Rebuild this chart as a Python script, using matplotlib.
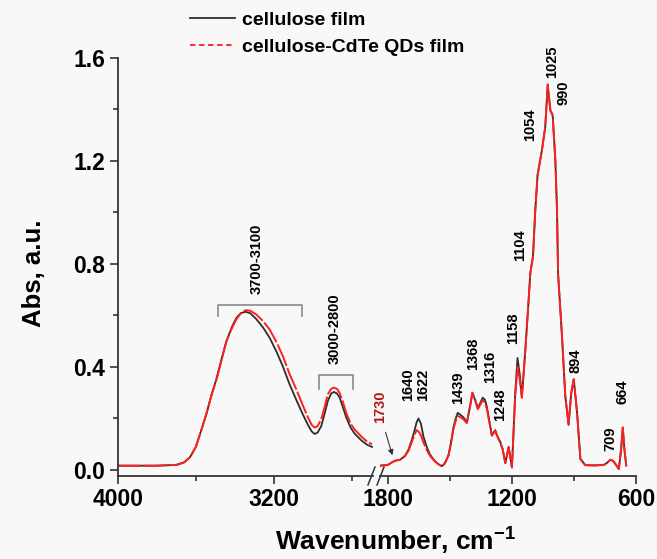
import matplotlib
matplotlib.use("Agg")
import matplotlib.pyplot as plt
from matplotlib.lines import Line2D
from matplotlib.ticker import FixedLocator

# high-wavenumber part (left of the axis break)
wn_hi = [4000, 3800, 3700, 3660, 3630, 3600, 3570, 3545, 3520, 3494, 3470, 3443,
         3415, 3392, 3370, 3345, 3320, 3289, 3255, 3221, 3185, 3152, 3120, 3084,
         3050, 3024, 3005, 2990, 2975, 2956, 2940, 2922, 2905, 2891, 2875, 2862,
         2845, 2828, 2805, 2785, 2750, 2720, 2695]
cell_hi = [0.017, 0.017, 0.020, 0.030, 0.050, 0.090, 0.160, 0.220, 0.290, 0.355, 0.425, 0.500,
           0.555, 0.590, 0.608, 0.614, 0.608, 0.585, 0.553, 0.513, 0.458, 0.400, 0.335, 0.272,
           0.215, 0.175, 0.150, 0.140, 0.145, 0.170, 0.215, 0.268, 0.297, 0.303, 0.297, 0.282,
           0.245, 0.205, 0.165, 0.142, 0.115, 0.098, 0.090]
qd_hi = [0.017, 0.017, 0.020, 0.030, 0.050, 0.090, 0.160, 0.220, 0.290, 0.350, 0.420, 0.500,
         0.550, 0.585, 0.607, 0.620, 0.618, 0.603, 0.578, 0.545, 0.495, 0.440, 0.375, 0.313,
         0.250, 0.204, 0.175, 0.165, 0.170, 0.197, 0.240, 0.294, 0.315, 0.320, 0.315, 0.300,
         0.265, 0.223, 0.180, 0.158, 0.130, 0.110, 0.100]

# fingerprint part (right of the break)
wn_lo = [1838, 1800, 1780, 1766, 1741, 1717, 1700, 1685, 1672, 1661, 1652, 1640,
         1628, 1612, 1596, 1575, 1556, 1539, 1525, 1507, 1495, 1483, 1472, 1462,
         1450, 1435, 1418, 1402, 1391, 1378, 1365, 1352, 1341, 1330, 1321, 1308,
         1297, 1281, 1268, 1257, 1245, 1232, 1216, 1200, 1184, 1173, 1162, 1152,
         1136, 1120, 1111, 1098, 1087, 1076, 1055, 1039, 1027, 1014, 1003, 990,
         982, 977, 958, 942, 926, 913, 901, 885, 869, 845, 800, 756,
         740, 724, 710, 699, 683, 672, 664, 656, 647]
cell_lo = [0.017, 0.020, 0.030, 0.036, 0.040, 0.055, 0.080, 0.115, 0.150, 0.185, 0.200, 0.180,
           0.130, 0.090, 0.060, 0.037, 0.023, 0.015, 0.025, 0.058, 0.105, 0.165, 0.200, 0.222,
           0.215, 0.205, 0.185, 0.250, 0.300, 0.272, 0.240, 0.262, 0.281, 0.272, 0.245, 0.185,
           0.135, 0.155, 0.128, 0.110, 0.082, 0.027, 0.090, 0.010, 0.300, 0.435, 0.370, 0.285,
           0.456, 0.650, 0.764, 0.830, 1.009, 1.144, 1.240, 1.330, 1.490, 1.395, 1.376, 1.200,
           1.009, 0.764, 0.520, 0.287, 0.175, 0.300, 0.352, 0.223, 0.043, 0.019, 0.018, 0.020,
           0.028, 0.040, 0.035, 0.023, 0.004, 0.080, 0.165, 0.080, 0.017]
qd_lo = [0.017, 0.020, 0.030, 0.036, 0.040, 0.055, 0.075, 0.107, 0.135, 0.155, 0.150, 0.135,
         0.107, 0.078, 0.055, 0.035, 0.023, 0.015, 0.025, 0.055, 0.100, 0.158, 0.190, 0.210,
         0.205, 0.197, 0.182, 0.249, 0.300, 0.270, 0.236, 0.255, 0.272, 0.260, 0.236, 0.180,
         0.133, 0.152, 0.125, 0.107, 0.080, 0.027, 0.088, 0.010, 0.287, 0.400, 0.350, 0.280,
         0.456, 0.650, 0.764, 0.830, 1.009, 1.144, 1.240, 1.330, 1.496, 1.395, 1.376, 1.200,
         1.009, 0.764, 0.520, 0.287, 0.178, 0.300, 0.352, 0.223, 0.043, 0.019, 0.018, 0.020,
         0.028, 0.040, 0.035, 0.023, 0.004, 0.080, 0.165, 0.080, 0.017]

series_labels = ["cellulose film", "cellulose-CdTe QDs film"]

# band labels (text, x, y) in data coords of the right panel
peak_labels = [("1640", 1703, 0.268), ("1622", 1630, 0.268), ("1439", 1459, 0.255),
               ("1368", 1386, 0.388), ("1316", 1305, 0.339), ("1248", 1257, 0.190),
               ("1158", 1192, 0.488), ("1104", 1160, 0.812), ("1054", 1111, 1.275),
               ("1025", 1008, 1.519), ("990", 950, 1.416), ("894", 893, 0.378),
               ("709", 724, 0.073), ("664", 667, 0.255)]

# bracketed ranges on the left panel: label, x1, x2, y top, y end, text x, text y
range_labels = [("3700-3100", 3486, 3055, 0.640, 0.597, 3286, 0.683),
                ("3000-2800", 2968, 2793, 0.368, 0.316, 2885, 0.410)]

plt.rcParams.update({
    "font.family": ["Liberation Sans", "DejaVu Sans"],
    "font.weight": "bold",
    "mathtext.fontset": "custom",
    "mathtext.rm": "Liberation Sans",
    "mathtext.bf": "Liberation Sans:bold",
    "axes.linewidth": 1.3,
    "axes.edgecolor": "#333333",
})

BG = "#f8f8f8"
BLACK = "#2e2e2e"
RED = "#ff1f1f"
LABEL_FS = 10.5

W, H = 657, 559
fig = plt.figure(figsize=(W / 100, H / 100), dpi=100, facecolor=BG)
bottom = 1 - 476 / H
height = 418.5 / H
ax1 = fig.add_axes([118 / W, bottom, 255 / W, height])
ax2 = fig.add_axes([380 / W, bottom, 256 / W, height], sharey=ax1)

for ax, wn, c, q in [(ax1, wn_hi, cell_hi, qd_hi), (ax2, wn_lo, cell_lo, qd_lo)]:
    ax.set_facecolor("none")
    ax.plot(wn, c, color=BLACK, lw=1.3)
    ax.plot(wn, q, color=RED, lw=1.4, dashes=(12, 1.2))
    ax.spines["top"].set_visible(False)
    ax.spines["right"].set_visible(False)
    ax.tick_params(axis="both", which="major", length=6, width=1.2, direction="out",
                   labelsize=16.5, pad=3, colors="#333333", labelcolor="black")
    ax.tick_params(axis="both", which="minor", length=3.5, width=1.2, direction="out",
                   colors="#333333")

ax1.set_xlim(4000, 2690)
ax2.set_xlim(1838, 600)
ax1.set_ylim(-0.023, 1.6)

ax1.set_xticks([4000, 3200])
ax1.xaxis.set_minor_locator(FixedLocator([3600, 2800]))
ax2.set_xticks([1800, 1200, 600])
ax2.xaxis.set_minor_locator(FixedLocator([1500, 900]))
ax1.set_yticks([0.0, 0.4, 0.8, 1.2, 1.6])
ax1.set_yticklabels(["0.0", "0.4", "0.8", "1.2", "1.6"])
ax1.yaxis.set_minor_locator(FixedLocator([0.2, 0.6, 1.0, 1.4]))

ax2.spines["left"].set_visible(False)
ax2.tick_params(axis="y", which="both", left=False, labelleft=False)

# range brackets
for lab, x1, x2, yt, ye, tx, ty in range_labels:
    ax1.plot([x1, x1, x2, x2], [ye, yt, yt, ye], color="#8a8a8a", lw=1.2)
    ax1.text(tx, ty, lab, rotation=90, ha="center", va="bottom", fontsize=LABEL_FS)

for lab, x, y in peak_labels:
    ax2.text(x, y, lab, rotation=90, ha="center", va="bottom", fontsize=LABEL_FS)

ax2.text(1835, 0.183, "1730", rotation=90, ha="center", va="bottom", fontsize=LABEL_FS,
         color="#b01818")
ax2.annotate("", xy=(1774, 0.047), xytext=(1815, 0.157),
             arrowprops=dict(arrowstyle="-|>", color="#333333", lw=0.8, mutation_scale=8))

# axis break marks
for x0 in (368, 377):
    fig.add_artist(Line2D([x0 / W, (x0 + 7) / W], [1 - 485 / H, 1 - 467 / H],
                          color="#333333", lw=1.1))

fig.text(396 / W, 1 - 550 / H, r"Wavenumber, cm$^{\mathbf{-1}}$", ha="center",
         va="baseline", fontsize=19)
fig.text(34 / W, 1 - 273 / H, "Abs, a.u.", rotation=90, ha="center", va="center",
         fontsize=18.5)

handles = [Line2D([], [], color=BLACK, lw=1.3),
           Line2D([], [], color=RED, lw=1.3, ls=(0, (3, 2)))]
fig.legend(handles, series_labels, loc="upper left", bbox_to_anchor=(190 / W, 1 - 11 / H),
           frameon=False, fontsize=14, handlelength=2.3, handletextpad=0.35,
           labelspacing=0.5, borderaxespad=0, borderpad=0)

fig.savefig("out.png", dpi=100, facecolor=fig.get_facecolor())
